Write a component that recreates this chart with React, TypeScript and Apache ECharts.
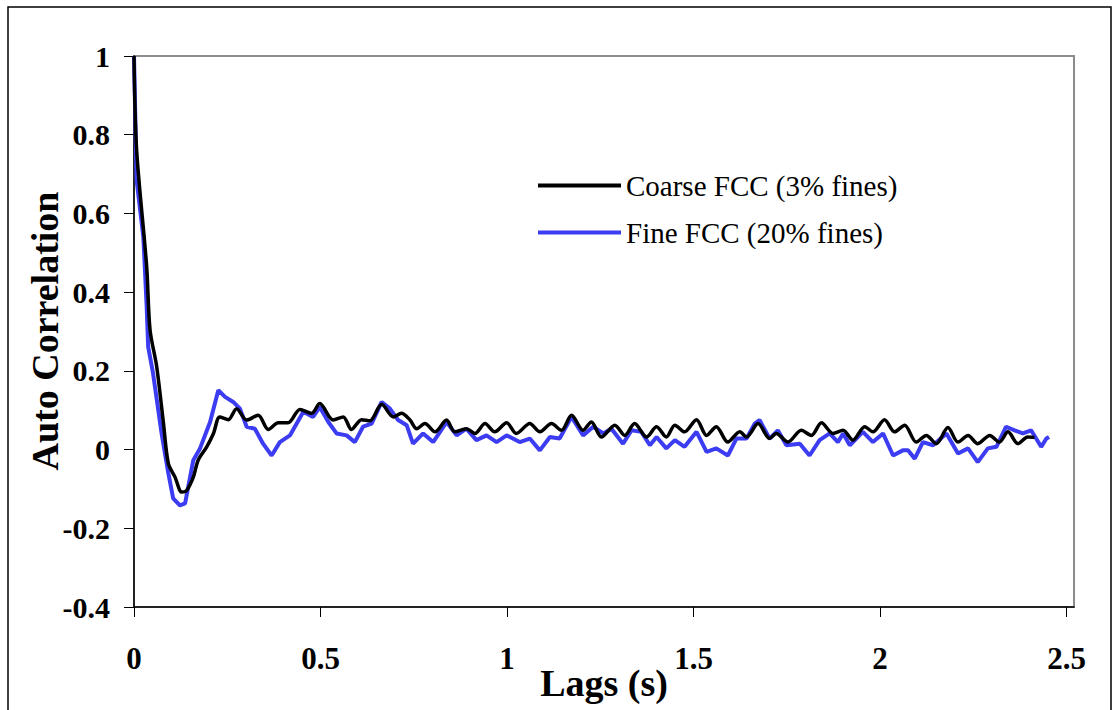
import React, { useEffect, useRef } from "react";
import * as echarts from "echarts";

const xTicks = [0, 0.5, 1, 1.5, 2, 2.5];

const coarseX = [0, 0.007, 0.034, 0.043, 0.061, 0.079, 0.092, 0.11, 0.128, 0.141, 0.159, 0.172, 0.195, 0.213, 0.23, 0.253, 0.275, 0.302, 0.333, 0.36, 0.387, 0.413, 0.445, 0.476, 0.498, 0.534, 0.561, 0.583, 0.61, 0.632, 0.664, 0.695, 0.717, 0.74, 0.758, 0.78, 0.807, 0.838, 0.86, 0.891, 0.914, 0.941, 0.967, 0.999, 1.025, 1.061, 1.088, 1.119, 1.146, 1.173, 1.204, 1.226, 1.253, 1.289, 1.316, 1.342, 1.374, 1.401, 1.427, 1.45, 1.476, 1.508, 1.535, 1.561, 1.592, 1.624, 1.642, 1.673, 1.704, 1.722, 1.753, 1.789, 1.816, 1.843, 1.874, 1.901, 1.927, 1.959, 1.981, 2.012, 2.039, 2.066, 2.097, 2.124, 2.151, 2.182, 2.209, 2.236, 2.262, 2.294, 2.32, 2.343, 2.37, 2.396, 2.414];
const coarseY = [1.0, 0.762, 0.465, 0.304, 0.21, 0.067, -0.035, -0.07, -0.108, -0.104, -0.07, -0.027, 0.007, 0.041, 0.083, 0.076, 0.104, 0.075, 0.087, 0.051, 0.068, 0.068, 0.102, 0.092, 0.117, 0.075, 0.083, 0.051, 0.076, 0.073, 0.115, 0.083, 0.092, 0.075, 0.053, 0.066, 0.045, 0.075, 0.045, 0.053, 0.041, 0.066, 0.045, 0.068, 0.041, 0.066, 0.045, 0.066, 0.049, 0.087, 0.049, 0.07, 0.032, 0.062, 0.036, 0.066, 0.032, 0.058, 0.032, 0.062, 0.045, 0.076, 0.036, 0.058, 0.019, 0.045, 0.032, 0.066, 0.028, 0.041, 0.019, 0.049, 0.036, 0.068, 0.041, 0.049, 0.024, 0.058, 0.045, 0.076, 0.045, 0.062, 0.019, 0.036, 0.015, 0.056, 0.019, 0.036, 0.015, 0.036, 0.019, 0.045, 0.015, 0.032, 0.031];

const fineX = [0, 0.007, 0.025, 0.034, 0.038, 0.051, 0.074, 0.092, 0.105, 0.123, 0.137, 0.159, 0.177, 0.204, 0.226, 0.244, 0.266, 0.284, 0.302, 0.324, 0.346, 0.369, 0.391, 0.418, 0.454, 0.48, 0.498, 0.521, 0.543, 0.57, 0.592, 0.614, 0.637, 0.664, 0.686, 0.708, 0.731, 0.748, 0.775, 0.802, 0.838, 0.865, 0.891, 0.918, 0.945, 0.972, 0.999, 1.034, 1.061, 1.088, 1.115, 1.141, 1.173, 1.204, 1.231, 1.258, 1.28, 1.311, 1.334, 1.36, 1.383, 1.401, 1.427, 1.45, 1.476, 1.508, 1.535, 1.561, 1.592, 1.615, 1.642, 1.664, 1.677, 1.704, 1.726, 1.749, 1.785, 1.811, 1.838, 1.865, 1.887, 1.901, 1.919, 1.954, 1.981, 2.008, 2.035, 2.061, 2.075, 2.093, 2.115, 2.142, 2.178, 2.209, 2.236, 2.262, 2.289, 2.312, 2.338, 2.361, 2.383, 2.405, 2.432, 2.446, 2.453];
const fineY = [1.0, 0.685, 0.541, 0.363, 0.261, 0.194, 0.041, -0.06, -0.124, -0.142, -0.137, -0.027, 0.003, 0.07, 0.151, 0.134, 0.121, 0.104, 0.058, 0.053, 0.015, -0.015, 0.019, 0.036, 0.096, 0.083, 0.108, 0.07, 0.041, 0.036, 0.019, 0.058, 0.066, 0.121, 0.104, 0.075, 0.062, 0.015, 0.041, 0.019, 0.07, 0.036, 0.053, 0.024, 0.036, 0.019, 0.036, 0.019, 0.028, -0.002, 0.032, 0.028, 0.083, 0.036, 0.058, 0.041, 0.053, 0.015, 0.049, 0.045, 0.011, 0.032, 0.003, 0.024, 0.007, 0.045, -0.006, 0.003, -0.015, 0.028, 0.028, 0.066, 0.075, 0.028, 0.049, 0.011, 0.015, -0.015, 0.024, 0.041, 0.019, 0.041, 0.011, 0.045, 0.019, 0.041, -0.015, -0.002, -0.002, -0.023, 0.019, 0.011, 0.041, -0.01, 0.003, -0.032, 0.003, 0.007, 0.058, 0.049, 0.041, 0.049, 0.007, 0.028, 0.032];

const seriesNames = ["Coarse FCC (3% fines)", "Fine FCC (20% fines)"];

const SERIF = "'Liberation Serif', 'Times New Roman', serif";

export default function App() {
  const ref = useRef<HTMLDivElement>(null);
  useEffect(() => {
    if (!ref.current) return;
    const chart = echarts.init(ref.current, null, { renderer: "svg" });
    const coarse = coarseX.map((x, i) => [x, coarseY[i]]);
    const fine = fineX.map((x, i) => [x, fineY[i]]);
    chart.setOption({
      animation: false,
      backgroundColor: "#fff",
      grid: {
        left: 134,
        top: 56,
        right: 43,
        bottom: 103,
        show: true,
        borderColor: "#8c8c8c",
        borderWidth: 2,
        backgroundColor: "transparent",
      },
      xAxis: {
        type: "value",
        min: 0,
        max: 2.52,
        interval: 0.5,
        splitLine: { show: false },
        axisLine: { show: true, onZero: false, lineStyle: { color: "#000", width: 1.5 } },
        axisTick: { show: true, length: 10, customValues: xTicks, lineStyle: { color: "#000", width: 1 } },
        axisLabel: {
          customValues: xTicks,
          margin: 36,
          fontFamily: SERIF,
          fontWeight: "bold",
          fontSize: 31,
          color: "#000",
        },
      },
      yAxis: {
        type: "value",
        min: -0.4,
        max: 1,
        interval: 0.2,
        splitLine: { show: false },
        axisLine: { show: true, onZero: false, lineStyle: { color: "#000", width: 1.5 } },
        axisTick: { show: true, length: 10, lineStyle: { color: "#000", width: 1 } },
        axisLabel: {
          margin: 24,
          fontFamily: SERIF,
          fontWeight: "bold",
          fontSize: 30,
          color: "#000",
          formatter: (v: number) => String(Math.round(v * 10) / 10),
        },
      },
      legend: {
        orient: "vertical",
        left: 533,
        top: 166,
        itemWidth: 83,
        itemHeight: 4,
        itemGap: 18,
        icon: "rect",
        textStyle: { fontFamily: SERIF, fontSize: 29, lineHeight: 28, color: "#000" },
        data: seriesNames,
      },
      series: [
        {
          name: seriesNames[0],
          type: "line",
          data: coarse,
          showSymbol: false,
          symbol: "none",
          smooth: 0.3,
          z: 3,
          lineStyle: { color: "#000", width: 3.5 },
          itemStyle: { color: "#000" },
        },
        {
          name: seriesNames[1],
          type: "line",
          data: fine,
          showSymbol: false,
          symbol: "none",
          z: 2,
          lineStyle: { color: "#3c3cf2", width: 4 },
          itemStyle: { color: "#3c3cf2" },
        },
      ],
      graphic: [
        {
          type: "rect",
          shape: { x: 8, y: 7, width: 1103, height: 730 },
          style: { fill: "none", stroke: "#000", lineWidth: 1.5 },
          silent: true,
        },
        {
          type: "text",
          x: 604,
          y: 683,
          style: {
            text: "Lags (s)",
            fontFamily: SERIF,
            fontWeight: "bold",
            fontSize: 38,
            fill: "#000",
            align: "center",
            verticalAlign: "middle",
          },
        },
        {
          type: "text",
          x: 45,
          y: 331,
          rotation: Math.PI / 2,
          style: {
            text: "Auto Correlation",
            fontFamily: SERIF,
            fontWeight: "bold",
            fontSize: 38,
            fill: "#000",
            align: "center",
            verticalAlign: "middle",
          },
        },
      ],
    });
    return () => chart.dispose();
  }, []);
  return (
    <div
      ref={ref}
      style={{ position: "absolute", left: 0, top: 0, width: 1117, height: 710 }}
    />
  );
}
